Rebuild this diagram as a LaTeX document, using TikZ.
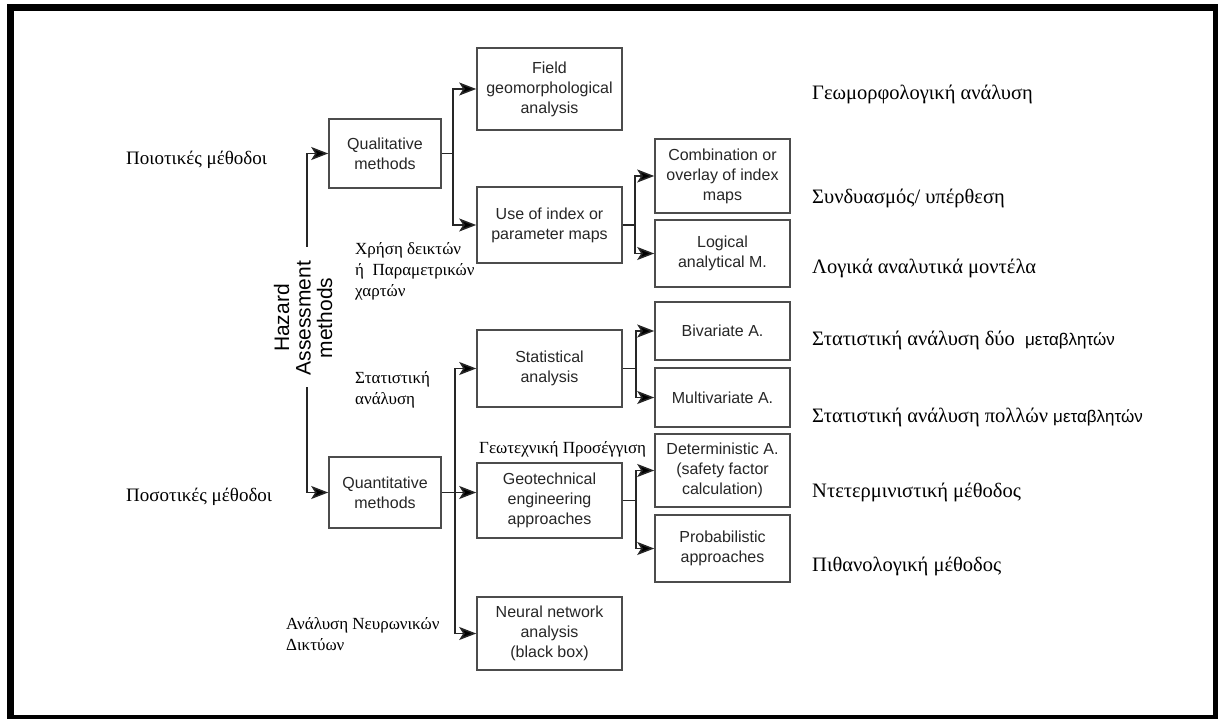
\documentclass[tikz,border=0pt]{standalone}
\usepackage{fontspec}
\setmainfont{Liberation Serif}
\setsansfont{Liberation Sans}
\usetikzlibrary{arrows.meta}
\tikzset{x=1pt, y=-1pt, % One unit is one pixel of the sketch, y grows downwards
    box/.style=
    { % Sets the properties for each method box
        draw=black!70,
        line width=1.6pt,
        font=\sffamily\fontsize{16}{20}\selectfont,
        text=black!85,
        align=center,
        inner sep=0pt
    },
    gr/.style={ % Greek captions, left aligned
        font=\fontsize{17}{21}\selectfont,
        align=left,
        anchor=west,
        inner sep=0pt
    },
    big/.style={font=\fontsize{20.5}{22}\selectfont}, % larger captions
    link/.style={ % Sets the properties for each connector
        draw=black!85,
        line width=1.5pt
    },
    >={Stealth[length=17pt,width=13pt,inset=4pt,fill=black]} % bold arrowheads
}

\begin{document}
\begin{tikzpicture}
\useasboundingbox (0,0) rectangle (1218,719);
\draw[line width=7pt] (10.5,8) rectangle (1216.5,718.5);

\node [rotate=90,align=center,font=\sffamily\fontsize{21}{21.5}\selectfont] (haz) at (303,318) {Hazard\\Assessment\\methods};
\coordinate (htop) at (307,247);
\coordinate (hbot) at (307,387);

\node [box,minimum width=112pt,minimum height=69pt] (qual)  at (385,153.5) {Qualitative\\methods};
\node [box,minimum width=112pt,minimum height=71pt] (quant) at (385,492.5) {Quantitative\\methods};
%%%%%%%%%%%%%%%%%%%%%%%%%%%%%%%%%%
\node [box,minimum width=145pt,minimum height=82pt] (field)  at (549.5,89)    {Field\\geomorphological\\analysis};
\node [box,minimum width=145pt,minimum height=76pt] (index)  at (549.5,225)   {Use of index or\\parameter maps};
\node [box,minimum width=145pt,minimum height=77pt] (stat)   at (549.5,368.5) {Statistical\\analysis};
\node [box,minimum width=145pt,minimum height=75pt] (geo)    at (549.5,500.5) {Geotechnical\\engineering\\approaches};
\node [box,minimum width=145pt,minimum height=73pt] (neural) at (549.5,633.5) {Neural network\\analysis\\(black box)};
%%%%%%%%%%%%%%%%%%%%%%%%%%%%%%%%%%
\node [box,minimum width=135pt,minimum height=74pt] (comb)  at (722.5,176)   {Combination or\\overlay of index\\maps};
\node [box,minimum width=135pt,minimum height=67pt] (logic) at (722.5,253.5) {Logical\\analytical M.};
\node [box,minimum width=135pt,minimum height=58pt] (biv)   at (722.5,331)   {Bivariate A.};
\node [box,minimum width=135pt,minimum height=59pt] (multi) at (722.5,397.5) {Multivariate A.};
\node [box,minimum width=135pt,minimum height=73pt] (det)   at (722.5,470.5) {Deterministic A.\\(safety factor\\calculation)};
\node [box,minimum width=135pt,minimum height=67pt] (prob)  at (722.5,548.5) {Probabilistic\\approaches};

% greek captions
\node [gr,font=\fontsize{19}{21}\selectfont] (qualgr)  at (126,160) {Ποιοτικές μέθοδοι};
\node [gr,font=\fontsize{19}{21}\selectfont] (quantgr) at (126,497) {Ποσοτικές μέθοδοι};
\node [gr] (indexgr) at (355,271) {Χρήση δεικτών\\ή\ \ Παραμετρικών\\χαρτών};
\node [gr] (statgr)  at (355,390) {Στατιστική\\ανάλυση};
\node [gr] (geogr)   at (479,449) {Γεωτεχνική Προσέγγιση};
\node [gr] (neurgr)  at (286,634) {Ανάλυση Νευρωνικών\\Δικτύων};

\node [gr,big] (fieldgr) at (812,94)  {Γεωμορφολογική ανάλυση};
\node [gr,big] (combgr)  at (812,198) {Συνδυασμός/ υπέρθεση};
\node [gr,big] (logicgr) at (812,268) {Λογικά αναλυτικά μοντέλα};
\node [gr,big] (bivgr)   at (812,340) {Στατιστική ανάλυση δύο\ \ {\sffamily\fontsize{17}{18}\selectfont μεταβλητών}};
\node [gr,big] (multigr) at (812,417) {Στατιστική ανάλυση πολλών {\sffamily\fontsize{17}{18}\selectfont μεταβλητών}};
\node [gr,big] (detgr)   at (812,492) {Ντετερμινιστική μέθοδος};
\node [gr,big] (probgr)  at (812,566) {Πιθανολογική μέθοδος};

% connectors
\draw[link,->] (htop) |- (qual);
\draw[link,->] (hbot) |- (quant);

\draw[link,->] (qual.east) -- ++(11,0) |- (field);
\draw[link,->] (qual.east) -- ++(11,0) |- (index);

\draw[link,->] (quant.east) -- ++(13,0) |- (stat);
\draw[link,->] (quant.east) -- (quant.east -| geo.west);
\draw[link,->] (quant.east) -- ++(13,0) |- (neural);

\draw[link,->] (index.east) -- ++(12,0) |- (comb);
\draw[link,->] (index.east) -- ++(12,0) |- (logic);
\draw[link,->] (stat.east) -- ++(13,0) |- (biv);
\draw[link,->] (stat.east) -- ++(13,0) |- (multi);
\draw[link,->] (geo.east) -- ++(13,0) |- (det);
\draw[link,->] (geo.east) -- ++(13,0) |- (prob);
\end{tikzpicture}
\end{document}
